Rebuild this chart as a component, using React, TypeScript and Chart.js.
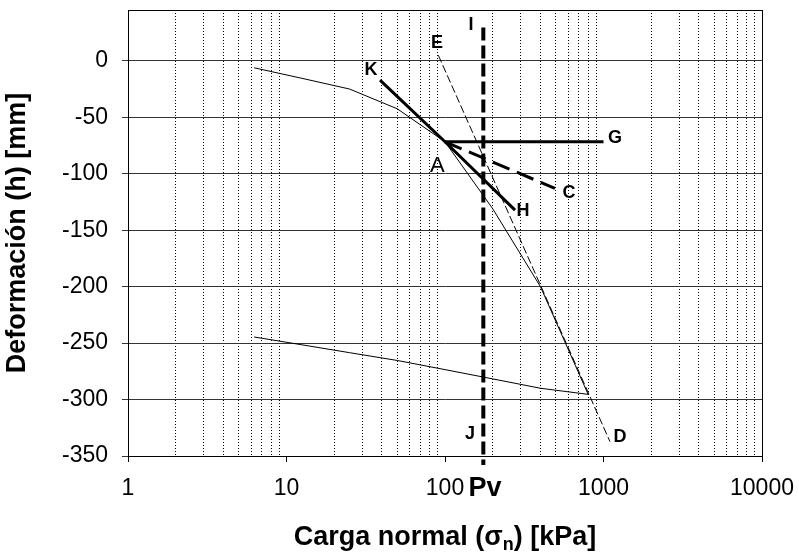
import React, { useEffect, useRef } from 'react';
import { Chart, registerables } from 'chart.js';

Chart.register(...registerables);

const FONT = '"Liberation Sans", Arial, Helvetica, sans-serif';

// Axis ticks
const xTickValues = [1, 10, 100, 1000, 10000];
const xMinorMultipliers = [2, 3, 4, 5, 6, 7, 8, 9];
const yTickValues = [-350, -300, -250, -200, -150, -100, -50, 0];

// Oedometer curve: loading branch
const loadStress = [6.25, 12.5, 25, 50, 100, 200, 400, 800];
const loadDef = [-6.2, -15.5, -25, -42.5, -71.7, -131, -200, -295.4];
// Unloading branch
const unloadStress = [800, 400, 200, 100, 50, 25, 12.5, 6.25];
const unloadDef = [-295.4, -290, -281.7, -273.5, -265.4, -258.5, -251.5, -244.6];

// Construction lines (Casagrande)
const edStress = [90.7, 1099];
const edDef = [5.0, -337.3];
const khStress = [38.9, 100, 276.6];
const khDef = [-17.1, -71.7, -132.2];
const agStress = [100, 1000];
const agDef = [-71.7, -71.7];
const acStress = [100, 494];
const acDef = [-71.7, -113];
const ijStress = [174.5, 174.5];
const ijDef = [29.4, -358];

// Point labels
const labelTexts = ['I', 'E', 'K', 'A', 'G', 'C', 'H', 'J', 'D', 'Pv'];
const labelStress = [145.9, 89.1, 34.1, 89.5, 1182, 606, 310.5, 143.8, 1271, 178.7];
const labelDef = [31.6, 15.7, -8.2, -92.8, -68.4, -117.1, -133.1, -330.5, -333.2, -378.5];

const xTitleMain = 'Carga normal (σ';
const xTitleSub = 'n';
const xTitleEnd = ') [kPa]';
const yTitle = 'Deformación (h) [mm]';

const pts = (xs: number[], ys: number[]) => xs.map((v, i) => ({ x: v, y: ys[i] }));
const isDecade = (v: number) => {
  if (!v || v <= 0) return false;
  const l = Math.log10(v);
  return Math.abs(l - Math.round(l)) < 1e-9;
};

const annotPlugin = {
  id: 'annot',
  afterDraw(chart: any) {
    const { ctx, chartArea, scales } = chart;
    const xs = scales.x;
    const ys = scales.y;
    ctx.save();
    // frame
    ctx.strokeStyle = '#000';
    ctx.lineWidth = 1;
    const l = Math.round(chartArea.left) + 0.5;
    const t = Math.round(chartArea.top) + 0.5;
    const r = Math.round(chartArea.right) + 0.5;
    const b = Math.round(chartArea.bottom) + 0.5;
    ctx.strokeRect(l, t, r - l, b - t);

    // labels
    ctx.fillStyle = '#000';
    ctx.textAlign = 'center';
    ctx.textBaseline = 'middle';
    labelTexts.forEach((txt, i) => {
      if (txt === 'A') ctx.font = `22px ${FONT}`;
      else if (txt === 'Pv') ctx.font = `bold 27px ${FONT}`;
      else ctx.font = `bold 18px ${FONT}`;
      ctx.fillText(txt, xs.getPixelForValue(labelStress[i]), ys.getPixelForValue(labelDef[i]));
    });

    // x title
    const cx = (chartArea.left + chartArea.right) / 2;
    ctx.textAlign = 'left';
    ctx.textBaseline = 'alphabetic';
    ctx.font = `bold 27px ${FONT}`;
    const w1 = ctx.measureText(xTitleMain).width;
    const w3 = ctx.measureText(xTitleEnd).width;
    ctx.font = `bold 18px ${FONT}`;
    const w2 = ctx.measureText(xTitleSub).width;
    const total = w1 + w2 + w3;
    const base = 545;
    const x0 = cx - total / 2;
    ctx.font = `bold 27px ${FONT}`;
    ctx.fillText(xTitleMain, x0, base);
    ctx.font = `bold 18px ${FONT}`;
    ctx.fillText(xTitleSub, x0 + w1, base + 5);
    ctx.font = `bold 27px ${FONT}`;
    ctx.fillText(xTitleEnd, x0 + w1 + w2, base);

    // y title
    ctx.translate(25, (chartArea.top + chartArea.bottom) / 2);
    ctx.rotate(-Math.PI / 2);
    ctx.textAlign = 'center';
    ctx.fillText(yTitle, 0, 0);
    ctx.restore();
  },
};

export default function App() {
  const ref = useRef<HTMLCanvasElement | null>(null);

  useEffect(() => {
    if (!ref.current) return;
    const minorTicks: number[] = [];
    for (let d = 0; d < xTickValues.length; d++) {
      minorTicks.push(xTickValues[d]);
      if (d < xTickValues.length - 1) xMinorMultipliers.forEach((m) => minorTicks.push(m * xTickValues[d]));
    }
    const thin = { borderColor: '#000', pointRadius: 0, showLine: true, fill: false, tension: 0 };
    const chart = new Chart(ref.current, {
      type: 'scatter',
      data: {
        datasets: [
          { ...thin, data: pts(loadStress.concat(unloadStress), loadDef.concat(unloadDef)), borderWidth: 1 },
          { ...thin, data: pts(edStress, edDef), borderWidth: 1, borderDash: [8, 3] },
          { ...thin, data: pts(khStress, khDef), borderWidth: 3 },
          { ...thin, data: pts(agStress, agDef), borderWidth: 3 },
          { ...thin, data: pts(acStress, acDef), borderWidth: 3, borderDash: [18, 8] },
          { ...thin, data: pts(ijStress, ijDef), borderWidth: 4, borderDash: [13, 5], clip: false },
        ] as any,
      },
      options: {
        animation: false,
        responsive: false,
        maintainAspectRatio: false,
        layout: { padding: { top: 10, right: 37, left: 0, bottom: 0 } },
        plugins: { legend: { display: false }, tooltip: { enabled: false }, title: { display: false } },
        scales: {
          x: {
            type: 'logarithmic',
            min: 1,
            max: 10000,
            afterBuildTicks: (s: any) => {
              s.ticks = minorTicks.map((v) => ({ value: v, major: isDecade(v) }));
            },
            afterFit: (s: any) => {
              s.height = 98;
              s.paddingLeft = 0;
              s.paddingRight = 0;
            },
            ticks: {
              autoSkip: false,
              maxRotation: 0,
              minRotation: 0,
              color: '#000',
              padding: 13,
              font: { family: FONT, size: 23 },
              callback: (v: any) => (xTickValues.some((t) => Math.abs(t - Number(v)) < 1e-6) ? String(Number(v)) : ''),
            },
            grid: {
              drawOnChartArea: true,
              color: (c: any) => (isDecade(c.tick?.value) ? 'rgba(0,0,0,0)' : '#000'),
              tickColor: (c: any) => (isDecade(c.tick?.value) ? '#000' : 'rgba(0,0,0,0)'),
              lineWidth: 1,
              tickLength: 6,
            },
            border: { color: '#000', width: 1, dash: [1, 2] },
          },
          y: {
            type: 'linear',
            min: -350,
            max: 45,
            afterBuildTicks: (s: any) => {
              s.ticks = yTickValues.map((v) => ({ value: v }));
            },
            afterFit: (s: any) => {
              s.width = 128;
              s.paddingTop = 0;
              s.paddingBottom = 0;
            },
            ticks: {
              color: '#000',
              padding: 14,
              font: { family: FONT, size: 23 },
              callback: (v: any) => String(v),
            },
            grid: { color: '#333', tickColor: '#333', lineWidth: 1, tickLength: 6 },
            border: { color: '#000', width: 1 },
          },
        },
      } as any,
      plugins: [annotPlugin],
    });
    return () => chart.destroy();
  }, []);

  return (
    <div style={{ position: 'fixed', left: 0, top: 0, width: 799, height: 554, background: '#fff' }}>
      <canvas ref={ref} width={799} height={554} style={{ width: 799, height: 554, display: 'block' }} />
    </div>
  );
}
